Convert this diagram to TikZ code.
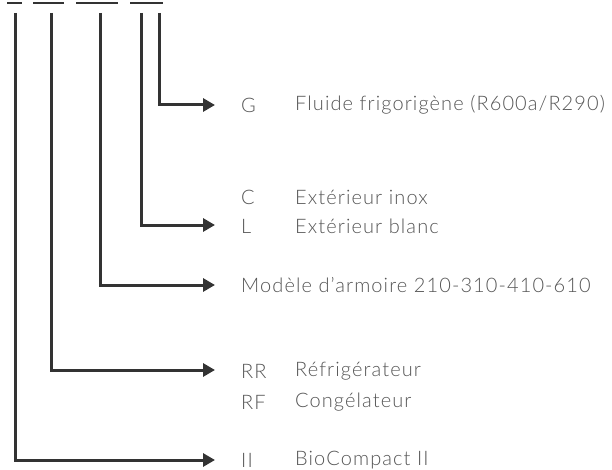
\documentclass[tikz,border=0pt]{standalone}
\usepackage{fontspec}
\setmainfont{Lato}[UprightFont={* Light}, LetterSpace=5.5]
\usetikzlibrary{arrows.meta}
\definecolor{linec}{HTML}{333333}
\definecolor{textc}{HTML}{555555}
\tikzset{
  conn/.style={draw=linec, line width=3pt, -{Triangle[length=12pt,width=13pt]}},
  dashln/.style={draw=linec, line width=2.6pt},
  lbl/.style={anchor=west, inner sep=0pt, text=textc, font=\fontsize{20}{24}\selectfont},
}
\begin{document}
\begin{tikzpicture}[x=1pt,y=-1pt]
\useasboundingbox (0,0) rectangle (612,470);
% top dashes
\draw[dashln] (7,3) -- (22,3);
\draw[dashln] (33,3) -- (64,3);
\draw[dashln] (76,3) -- (118,3);
\draw[dashln] (130,3) -- (163,3);
% top coordinates of verticals
\coordinate (v1) at (15,13);
\coordinate (v2) at (51,13);
\coordinate (v3) at (100,13);
\coordinate (v4) at (141,13);
\coordinate (v5) at (159,13);
% labels
\node[lbl] (g)  at (241,105) {G};
\node[lbl] (gd) at (295,105) {Fluide frigorigène (R600a/R290)};
\node[lbl] (c)  at (241,197) {C};
\node[lbl] (cd) at (295,197) {Extérieur inox};
\node[lbl] (l)  at (241,226) {L};
\node[lbl] (ld) at (295,226) {Extérieur blanc};
\node[lbl] (m)  at (241,285) {Modèle d’armoire 210-310-410-610};
\node[lbl] (rr) at (241,371) {RR};
\node[lbl] (rrd) at (295,371) {Réfrigérateur};
\node[lbl] (rf) at (241,402) {RF};
\node[lbl] (rfd) at (295,402) {Congélateur};
\node[lbl] (ii) at (241,460) {II};
\node[lbl] (iid) at (295,460) {BioCompact II};
% arrow end coordinates
\coordinate (e5) at (215,105);
\coordinate (e4) at (215,225);
\coordinate (e3) at (215,285);
\coordinate (e2) at (215,370);
\coordinate (e1) at (215,460);
% connectors
\draw[conn] (v5) |- (e5);
\draw[conn] (v4) |- (e4);
\draw[conn] (v3) |- (e3);
\draw[conn] (v2) |- (e2);
\draw[conn] (v1) |- (e1);
\end{tikzpicture}
\end{document}
